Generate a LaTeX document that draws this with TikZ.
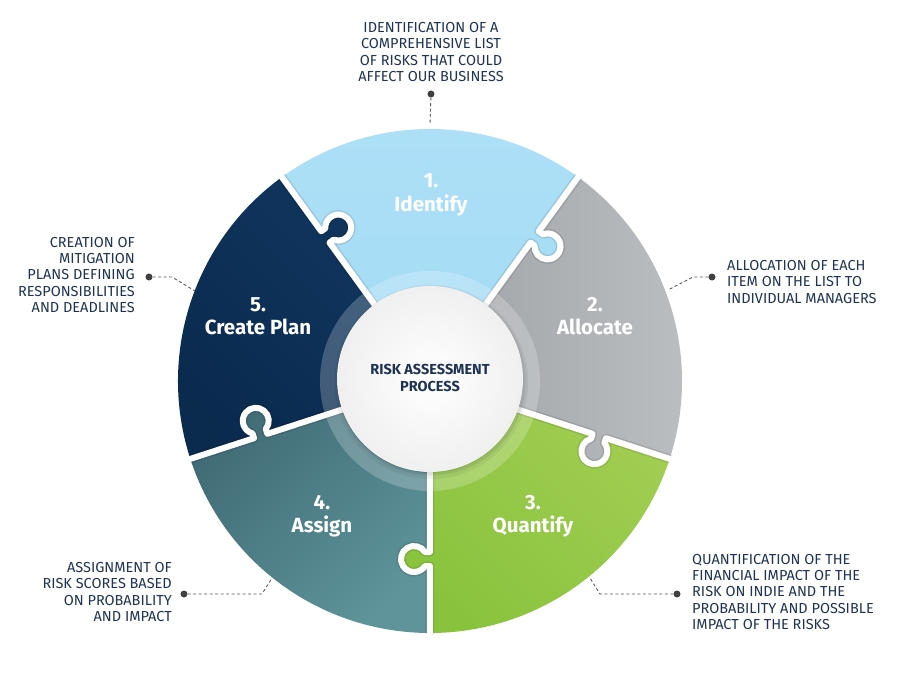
\documentclass[tikz,border=0pt]{standalone}
\usepackage{fontspec}
\setmainfont{Fira Sans}
\definecolor{txt}{HTML}{1E3452}
\definecolor{c1a}{HTML}{A2DAF4}
\definecolor{c1b}{HTML}{ADE0F7}
\definecolor{c2a}{HTML}{9EA1A5}
\definecolor{c2b}{HTML}{BBBEC1}
\definecolor{c3a}{HTML}{89C33D}
\definecolor{c3b}{HTML}{A3CE54}
\definecolor{c4a}{HTML}{3E6873}
\definecolor{c4b}{HTML}{5E949A}
\definecolor{c5a}{HTML}{0A2A4E}
\definecolor{c5b}{HTML}{113760}
\begin{document}
\begin{tikzpicture}[x=1pt,y=1pt,
  lead/.style={draw=black!65, line width=0.9pt, dash pattern=on 3pt off 2.5pt},
  dotn/.style={circle, fill=black!75, inner sep=0pt, minimum size=7pt},
  desc/.style={text=txt, font=\fontsize{14.5}{16.3}\selectfont, inner sep=0pt},
  seglabel/.style={text=white, font=\fontsize{20.5}{23.5}\selectfont\bfseries, align=center, inner sep=0pt},
  gapline/.style={draw=white, line width=6pt, line join=round},
  gapshade/.style={draw=black, opacity=0.10, line width=9pt, line join=round},
  sh1/.style={top color=c1b,bottom color=c1a},
  sh2/.style={top color=c2b,bottom color=c2a,shading angle=-90},
  sh3/.style={top color=c3b,bottom color=c3a,shading angle=-45},
  sh4/.style={top color=c4b,bottom color=c4a,shading angle=-135},
  sh5/.style={top color=c5b,bottom color=c5a,shading angle=-45}
]
\useasboundingbox[fill=white] (-430,-294) rectangle (470,381);

% sectors
\begin{scope}
  \clip (0,0) -- (54:252) arc[start angle=54,end angle=126,radius=252] -- cycle;
  \shade[sh1] (-160,-5) rectangle (160,255);
\end{scope}
\begin{scope}
  \clip (0,0) -- (-18:252) arc[start angle=-18,end angle=54,radius=252] -- cycle;
  \shade[sh2] (-5,-85) rectangle (255,215);
\end{scope}
\begin{scope}
  \clip (0,0) -- (-90:252) arc[start angle=-90,end angle=-18,radius=252] -- cycle;
  \shade[sh3] (-35,-255) rectangle (255,5);
\end{scope}
\begin{scope}
  \clip (0,0) -- (198:252) arc[start angle=198,end angle=270,radius=252] -- cycle;
  \shade[sh4] (-255,-255) rectangle (5,5);
\end{scope}
\begin{scope}
  \clip (0,0) -- (126:252) arc[start angle=126,end angle=198,radius=252] -- cycle;
  \shade[sh5] (-255,-85) rectangle (5,215);
\end{scope}

% puzzle tabs
\begin{scope}
  \clip[rotate=54] (171,3) rectangle (185,-16) (178,-16) circle[radius=13];
  \shade[sh1] (-160,-5) rectangle (160,255);
\end{scope}
\begin{scope}
  \clip[rotate=-18] (171,3) rectangle (185,-16) (178,-16) circle[radius=13];
  \shade[sh2] (-5,-85) rectangle (255,215);
\end{scope}
\begin{scope}
  \clip[rotate=-90] (171,3) rectangle (185,-16) (178,-16) circle[radius=13];
  \shade[sh3] (-35,-255) rectangle (255,5);
\end{scope}
\begin{scope}
  \clip[rotate=198] (171,3) rectangle (185,-16) (178,-16) circle[radius=13];
  \shade[sh4] (-255,-255) rectangle (5,5);
\end{scope}
\begin{scope}
  \clip[rotate=126] (171,3) rectangle (185,-16) (178,-16) circle[radius=13];
  \shade[sh5] (-255,-85) rectangle (5,215);
\end{scope}

% white gaps (rk=13, n=7)
\foreach \a in {54,-18,-90,198,126}{
  \draw[gapshade, rotate=\a] (0,0) -- (171,0) -- (171,-5.05)
    arc[start angle=122.6,end angle=417.4,radius=13] -- (185,0) -- (253,0);
}
\foreach \a in {54,-18,-90,198,126}{
  \draw[gapline, rotate=\a] (0,0) -- (171,0) -- (171,-5.05)
    arc[start angle=122.6,end angle=417.4,radius=13] -- (185,0) -- (256,0);
}

% centre
\fill[white, opacity=0.22, even odd rule] (0,0) circle[radius=110] (0,1) circle[radius=93];
\fill[black, opacity=0.05] (1,-1) circle[radius=97];
\fill[black, opacity=0.07] (1,0) circle[radius=94.5];
\shade[inner color=white, outer color=black!6] (0,2) circle[radius=93];
\node[text=txt, font=\fontsize{14.5}{17}\selectfont\bfseries, align=center] (center) at (0,3) {RISK ASSESSMENT\\PROCESS};

% segment labels
\node[seglabel] (l1) at (1,186) {1.\\Identify};
\node[seglabel] (l2) at (165,65) {2.\\Allocate};
\node[seglabel] (l3) at (103,-135) {3.\\Quantify};
\node[seglabel] (l4) at (-108,-135) {4.\\Assign};
\node[seglabel] (l5) at (-172,65) {5.\\Create Plan};

% descriptions
\node[desc, align=center] (t1) at (1,329) {IDENTIFICATION OF A\\COMPREHENSIVE LIST\\OF RISKS THAT COULD\\AFFECT OUR BUSINESS};
\node[desc, align=left, anchor=west] (t2) at (297,99) {ALLOCATION OF EACH\\ITEM ON THE LIST TO\\INDIVIDUAL MANAGERS};
\node[desc, align=left, anchor=west] (t3) at (262,-211) {QUANTIFICATION OF THE\\FINANCIAL IMPACT OF THE\\RISK ON INDIE AND THE\\PROBABILITY AND POSSIBLE\\IMPACT OF THE RISKS};
\node[desc, align=right, anchor=east] (t4) at (-258,-211) {ASSIGNMENT OF\\RISK SCORES BASED\\ON PROBABILITY\\AND IMPACT};
\node[desc, align=right, anchor=east] (t5) at (-295,106) {CREATION OF\\MITIGATION\\PLANS DEFINING\\RESPONSIBILITIES\\AND DEADLINES};

% leaders
\node[dotn] (d1) at (1,287) {};
\coordinate (e1) at (90:256);
\draw[lead] (d1) -- (e1);

\node[dotn] (d2) at (282,104) {};
\coordinate (k2) at (263,104);
\coordinate (e2) at (238,91);
\draw[lead] (d2) -- (k2) -- (e2);

\node[dotn] (d3) at (247,-213) {};
\coordinate (k3) at (170,-213);
\coordinate (e3) at (160,-197);
\draw[lead] (d3) -- (k3) -- (e3);

\node[dotn] (d4) at (-246,-213) {};
\coordinate (k4) at (-168,-213);
\coordinate (e4) at (-158,-197);
\draw[lead] (d4) -- (k4) -- (e4);

\node[dotn] (d5) at (-281,104) {};
\coordinate (k5) at (-258,104);
\coordinate (e5) at (-235,90);
\draw[lead] (d5) -- (k5) -- (e5);
\end{tikzpicture}
\end{document}
